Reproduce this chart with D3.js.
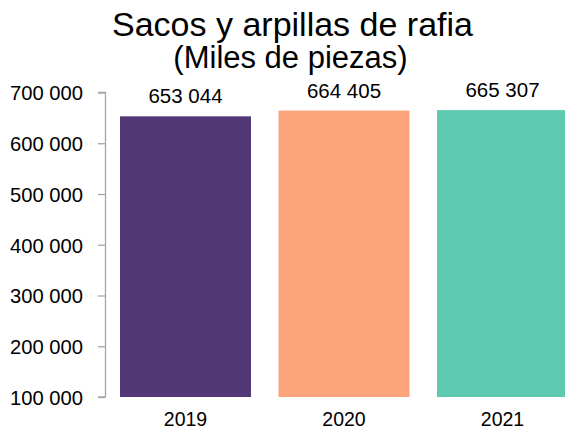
<!DOCTYPE html>
<html><head><meta charset="utf-8">
<script src="https://cdn.jsdelivr.net/npm/d3@7"></script>
<style>body{margin:0;background:#fff;} svg{display:block;font-family:"Liberation Sans",Arial,sans-serif;}</style>
</head><body>
<svg id="c" width="565" height="431"></svg>
<script>
const categories = ["2019", "2020", "2021"];
const values = [653044, 664405, 665307];
const valueLabels = ["653 044", "664 405", "665 307"];
const colors = ["#523876", "#FBA47C", "#5DC9AF"];
const yTicks = [100000, 200000, 300000, 400000, 500000, 600000, 700000];
const title = "Sacos y arpillas de rafia";
const subtitle = "(Miles de piezas)";

const svg = d3.select("#c");
const fmt = v => d3.format(",")(v).replace(/,/g, " ");

const y = d3.scaleLinear().domain([100000, 700000]).range([397, 92.5]);
const x = d3.scaleBand().domain(categories).range([105, 583]).paddingInner(0.1735).paddingOuter(0.0946);

svg.append("text").attr("x", 292.5).attr("y", 36).attr("text-anchor", "middle")
  .attr("font-size", 34).attr("fill", "#000").text(title);
svg.append("text").attr("x", 290.5).attr("y", 68).attr("text-anchor", "middle")
  .attr("font-size", 31).attr("fill", "#000").text(subtitle);

// bars
svg.selectAll("rect.bar").data(values).join("rect").attr("class", "bar")
  .attr("x", (d, i) => x(categories[i]))
  .attr("width", x.bandwidth())
  .attr("y", d => y(d))
  .attr("height", d => y(100000) - y(d))
  .attr("fill", (d, i) => colors[i]);

svg.selectAll("text.val").data(values).join("text").attr("class", "val")
  .attr("x", (d, i) => x(categories[i]) + x.bandwidth() / 2)
  .attr("y", d => y(d) - 13)
  .attr("text-anchor", "middle").attr("font-size", 20.5).attr("fill", "#000")
  .text((d, i) => valueLabels[i]);

// y axis
const yAxis = d3.axisLeft(y).tickValues(yTicks).tickFormat(fmt).tickSize(7).tickPadding(15);
const ga = svg.append("g").attr("transform", "translate(105,0)").call(yAxis);
ga.select(".domain").attr("stroke", "#A6A6A6").attr("stroke-width", 1.3)
  .attr("d", "M-7," + y(700000) + "H0.5V" + y(100000) + "H-7");
ga.selectAll(".tick line").attr("stroke", "#A6A6A6").attr("stroke-width", 1.3);
ga.selectAll(".tick text").attr("font-size", 20.2).attr("fill", "#000")
  .attr("font-family", "Liberation Sans, Arial, sans-serif").attr("dy", "0.36em");

// x labels
svg.selectAll("text.cat").data(categories).join("text").attr("class", "cat")
  .attr("x", d => x(d) + x.bandwidth() / 2)
  .attr("y", 426).attr("text-anchor", "middle").attr("font-size", 19.5).attr("fill", "#000")
  .text(d => d);
</script>
</body></html>
